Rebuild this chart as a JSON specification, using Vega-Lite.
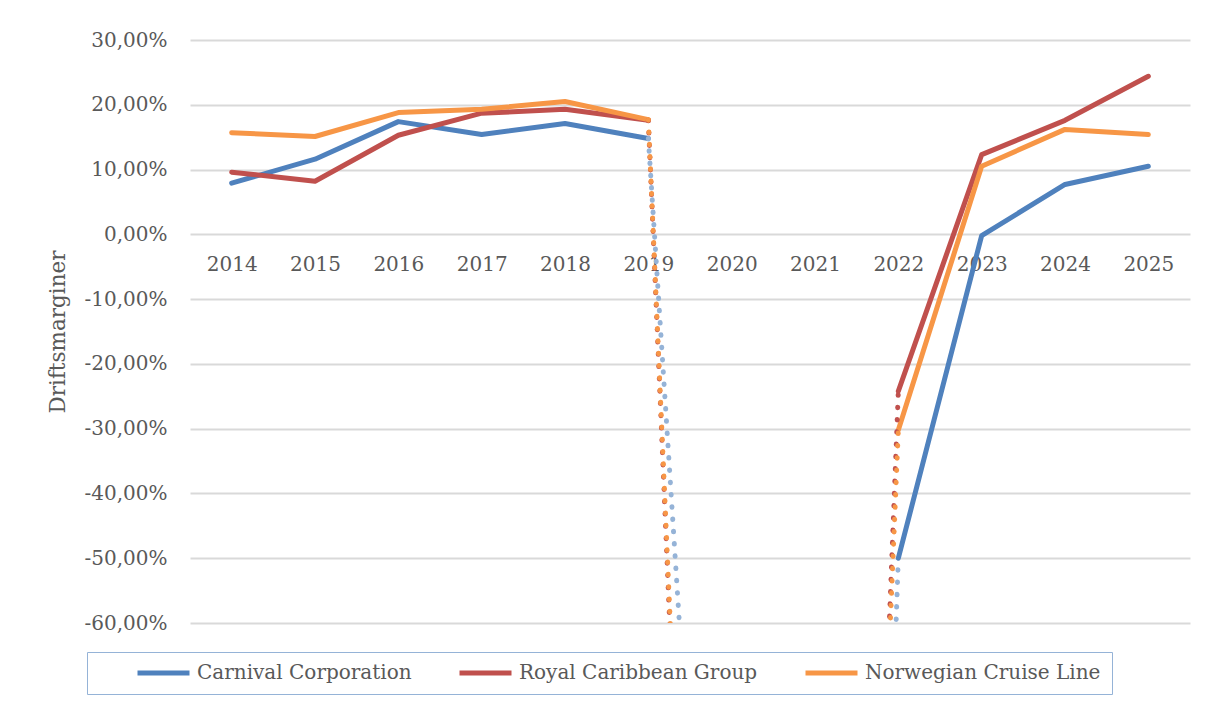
{
  "$schema": "https://vega.github.io/schema/vega-lite/v6.json",
  "width": 1000,
  "height": 583,
  "autosize": {"type": "none"},
  "padding": {"left": 190, "top": 40, "right": 18, "bottom": 83},
  "background": "white",
  "config": {
    "font": "DejaVu Serif",
    "view": {"stroke": null},
    "axis": {"labelFont": "DejaVu Serif", "titleFont": "DejaVu Serif", "labelColor": "#595959", "titleColor": "#595959"}
  },
  "data": {
    "values": [
      {"company": "Carnival Corporation", "year": "2014", "value": 0.079, "seg": "pre"},
      {"company": "Carnival Corporation", "year": "2015", "value": 0.116, "seg": "pre"},
      {"company": "Carnival Corporation", "year": "2016", "value": 0.174, "seg": "pre"},
      {"company": "Carnival Corporation", "year": "2017", "value": 0.154, "seg": "pre"},
      {"company": "Carnival Corporation", "year": "2018", "value": 0.171, "seg": "pre"},
      {"company": "Carnival Corporation", "year": "2019", "value": 0.148, "seg": "pre"},
      {"company": "Carnival Corporation", "year": "2019", "value": 0.148, "seg": "dip1"},
      {"company": "Carnival Corporation", "year": "2020", "value": -1.86, "seg": "dip1"},
      {"company": "Carnival Corporation", "year": "2021", "value": -4.2, "seg": "dip2"},
      {"company": "Carnival Corporation", "year": "2022", "value": -0.5, "seg": "dip2"},
      {"company": "Carnival Corporation", "year": "2022", "value": -0.5, "seg": "post"},
      {"company": "Carnival Corporation", "year": "2023", "value": -0.002, "seg": "post"},
      {"company": "Carnival Corporation", "year": "2024", "value": 0.077, "seg": "post"},
      {"company": "Carnival Corporation", "year": "2025", "value": 0.105, "seg": "post"},
      {"company": "Royal Caribbean Group", "year": "2014", "value": 0.096, "seg": "pre"},
      {"company": "Royal Caribbean Group", "year": "2015", "value": 0.082, "seg": "pre"},
      {"company": "Royal Caribbean Group", "year": "2016", "value": 0.153, "seg": "pre"},
      {"company": "Royal Caribbean Group", "year": "2017", "value": 0.187, "seg": "pre"},
      {"company": "Royal Caribbean Group", "year": "2018", "value": 0.193, "seg": "pre"},
      {"company": "Royal Caribbean Group", "year": "2019", "value": 0.176, "seg": "pre"},
      {"company": "Royal Caribbean Group", "year": "2019", "value": 0.176, "seg": "dip1"},
      {"company": "Royal Caribbean Group", "year": "2020", "value": -2.85, "seg": "dip1"},
      {"company": "Royal Caribbean Group", "year": "2021", "value": -3.55, "seg": "dip2"},
      {"company": "Royal Caribbean Group", "year": "2022", "value": -0.242, "seg": "dip2"},
      {"company": "Royal Caribbean Group", "year": "2022", "value": -0.242, "seg": "post"},
      {"company": "Royal Caribbean Group", "year": "2023", "value": 0.123, "seg": "post"},
      {"company": "Royal Caribbean Group", "year": "2024", "value": 0.176, "seg": "post"},
      {"company": "Royal Caribbean Group", "year": "2025", "value": 0.244, "seg": "post"},
      {"company": "Norwegian Cruise Line", "year": "2014", "value": 0.157, "seg": "pre"},
      {"company": "Norwegian Cruise Line", "year": "2015", "value": 0.151, "seg": "pre"},
      {"company": "Norwegian Cruise Line", "year": "2016", "value": 0.188, "seg": "pre"},
      {"company": "Norwegian Cruise Line", "year": "2017", "value": 0.193, "seg": "pre"},
      {"company": "Norwegian Cruise Line", "year": "2018", "value": 0.205, "seg": "pre"},
      {"company": "Norwegian Cruise Line", "year": "2019", "value": 0.177, "seg": "pre"},
      {"company": "Norwegian Cruise Line", "year": "2019", "value": 0.177, "seg": "dip1"},
      {"company": "Norwegian Cruise Line", "year": "2020", "value": -2.77, "seg": "dip1"},
      {"company": "Norwegian Cruise Line", "year": "2021", "value": -3.4, "seg": "dip2"},
      {"company": "Norwegian Cruise Line", "year": "2022", "value": -0.302, "seg": "dip2"},
      {"company": "Norwegian Cruise Line", "year": "2022", "value": -0.302, "seg": "post"},
      {"company": "Norwegian Cruise Line", "year": "2023", "value": 0.105, "seg": "post"},
      {"company": "Norwegian Cruise Line", "year": "2024", "value": 0.162, "seg": "post"},
      {"company": "Norwegian Cruise Line", "year": "2025", "value": 0.154, "seg": "post"}
    ]
  },
  "encoding": {
    "x": {
      "field": "year", "type": "ordinal",
      "scale": {"type": "point", "padding": 0.5, "domain": ["2014","2015","2016","2017","2018","2019","2020","2021","2022","2023","2024","2025"]},
      "axis": {"title": null, "orient": "bottom", "offset": -389, "domain": false, "ticks": false, "grid": false, "labelAngle": 0, "labelFontSize": 20, "labelPadding": 20}
    },
    "y": {
      "field": "value", "type": "quantitative",
      "scale": {"domain": [-0.6, 0.3], "nice": false, "zero": false},
      "axis": {
        "title": "Driftsmarginer", "titleFontSize": 21.5, "titleFontWeight": "normal", "titlePadding": 14,
        "values": [-0.6, -0.5, -0.4, -0.3, -0.2, -0.1, 0, 0.1, 0.2, 0.3],
        "labelExpr": "replace(replace(format(datum.value, '.2%'), '.', ','), '\u2212', '-')",
        "labelFontSize": 20, "labelPadding": 23, "ticks": false, "domain": false,
        "gridColor": "#D9D9D9", "gridWidth": 2
      }
    }
  },
  "layer": [
    {
      "transform": [{"filter": "datum.seg == 'pre' || datum.seg == 'post'"}],
      "mark": {"type": "line", "strokeWidth": 5, "strokeCap": "round", "strokeJoin": "round", "clip": true},
      "encoding": {
        "color": {
          "field": "company", "type": "nominal",
          "scale": {"domain": ["Carnival Corporation", "Royal Caribbean Group", "Norwegian Cruise Line"], "range": ["#4F81BD", "#C0504D", "#F79646"]},
          "legend": {
            "title": " ", "titleOrient": "left", "titlePadding": 37, "titleFontSize": 1,
            "orient": "none", "legendX": -103, "legendY": 612, "direction": "horizontal",
            "symbolType": "stroke", "symbolSize": 2704, "symbolStrokeWidth": 5, "clipHeight": 20,
            "labelFont": "DejaVu Serif", "labelFontSize": 20, "labelColor": "#595959", "labelOffset": 5, "labelLimit": 400,
            "columnPadding": 45, "padding": 11, "strokeColor": "#95B3D7", "fillColor": "white"
          }
        },
        "detail": {"field": "seg"}
      }
    },
    {
      "transform": [{"filter": "datum.seg == 'dip1' || datum.seg == 'dip2'"}],
      "mark": {"type": "line", "strokeWidth": 5, "strokeCap": "round", "strokeDash": [0.5, 11.8], "clip": true},
      "encoding": {
        "color": {
          "field": "company", "type": "nominal",
          "scale": {"domain": ["Carnival Corporation", "Royal Caribbean Group", "Norwegian Cruise Line"], "range": ["#95B3D7", "#C0504D", "#F79646"]},
          "legend": null
        },
        "detail": {"field": "seg"}
      }
    }
  ],
  "resolve": {"scale": {"color": "independent"}}
}
